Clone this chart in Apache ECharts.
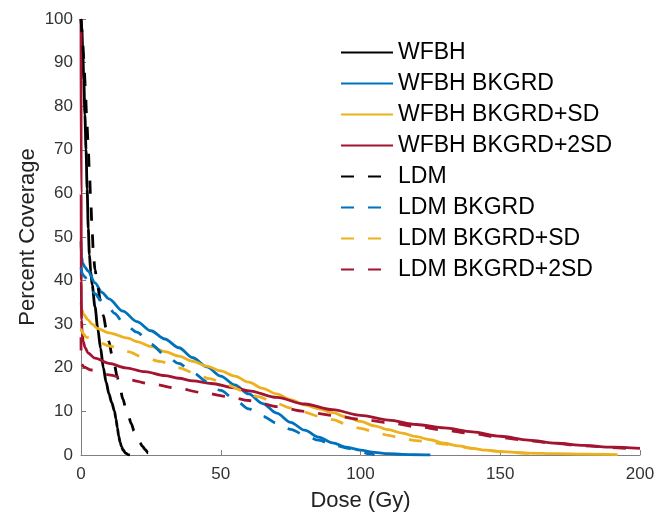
<!DOCTYPE html>
<html>
<head>
<meta charset="utf-8">
<script src="https://cdn.jsdelivr.net/npm/echarts@6/dist/echarts.min.js"></script>
<style>
  html, body { margin: 0; padding: 0; background: #fff; }
  #chart { width: 664px; height: 517px; }
</style>
</head>
<body>
<div id="chart"></div>
<script>
// dose (Gy) vs percent coverage
var seriesNames = ['WFBH', 'WFBH BKGRD', 'WFBH BKGRD+SD', 'WFBH BKGRD+2SD',
                   'LDM', 'LDM BKGRD', 'LDM BKGRD+SD', 'LDM BKGRD+2SD'];
var xTicks = [0, 50, 100, 150, 200];
var yTicks = [0, 10, 20, 30, 40, 50, 60, 70, 80, 90, 100];

var wfbh = [[0,100],[0.3,98],[0.6,93],[1,86],[1.4,78],[1.8,70],[2.2,61],[2.6,52],[3,46],[3.5,42],[4,39],[5,34],[6,29],[7,24.5],[8,20],[9,16.7],[10,14],[11,12],[12,10],[12.5,8.3],[13,6.3],[13.5,4.3],[14,2.9],[14.5,1.9],[15,1.2],[16,0.4],[17,0.05],[17.5,0]];
var wfbhBkgrd = [[0,49],[0.2,45.5],[0.6,44],[1.5,43],[2.5,42.2],[5,39.5],[7.5,37.3],[10,35.8],[15,33],[20,30.6],[25,28.5],[30,26.6],[35,24.6],[40,22.3],[45,20.2],[50,18.1],[55,16.1],[60,14],[65,11.8],[70,9.6],[75,7.5],[80,5.7],[85,4.1],[90,2.8],[95,1.8],[100,1.1],[105,0.6],[110,0.3],[115,0.15],[120,0.06],[125,0]];
var wfbhSd = [[0,35],[0.2,33.5],[1,32.2],[2.5,31],[4,30],[6,29],[10,28],[16.8,26.8],[20,26],[25,24.9],[30,23.7],[35,22.7],[40,21.5],[45,20.4],[50,19.3],[55,18.1],[60,16.7],[65,15.3],[70,14],[75,12.7],[80,11.5],[85,10.6],[90,9.7],[95,8.7],[100,7.7],[105,6.7],[110,5.8],[115,5],[120,4.2],[125,3.5],[130,2.7],[135,2.1],[140,1.5],[145,1.1],[150,0.8],[155,0.6],[160,0.45],[170,0.3],[180,0.2],[192,0.1]];
var wfbh2Sd = [[0,100],[0.05,60],[0.1,40],[0.2,31],[0.4,28],[0.8,26],[1.5,24.6],[2.5,23.4],[5,22.2],[10,21],[16,20],[22.8,19.1],[30,18.2],[35,17.6],[40,17],[46.6,16.4],[55,15.4],[60,14.7],[70,13.2],[80,11.7],[90,10.4],[100,9.1],[110,8],[120,7],[130,6.2],[140,5.3],[150,4.3],[160,3.4],[170,2.7],[180,2.2],[190,1.8],[200,1.5]];

var ldm = [[0,100],[0.5,96],[1,91],[1.5,85],[2,78],[2.5,72],[3,65],[3.5,58],[4,51],[4.5,45.5],[5,42.5],[6,38.5],[7,35],[8,32],[9,29],[10,26],[11,23.2],[12,20.5],[13,17.8],[14,15.2],[15,12.8],[16,10.8],[17,8.8],[18,7.2],[19,5.5],[20,4],[21,2.9],[22,2],[23,1.2],[24,0.5],[25,0.1],[25.3,0]];
var ldmBkgrd = [[0,43],[0.5,41.5],[1.3,40.9],[3,39],[5,37],[7.1,35.5],[10,33.8],[12,32.5],[15,30.5],[20,28.2],[25,25.4],[30,23],[35,21],[40,18.9],[45,16.9],[50,14.8],[55,12.7],[60,10.6],[65,8.9],[70,7.3],[75,5.9],[80,4.6],[85,3.4],[90,2.4],[95,1.6],[100,0.8],[103,0.3],[105,0]];
var ldmSd = [[0,29],[0.5,28],[2,27],[6,26],[10,25],[16.8,23.7],[22,22.5],[28.6,21.4],[35,20],[40.7,18.8],[46,17.5],[52.6,16],[58,14.7],[63.3,13.4],[70,11.8],[75,10.8],[80,9.8],[85,8.9],[90,8.1],[95,7.1],[100,6.1],[105,5.3],[110,4.5],[115,3.8],[120,3.3],[125,2.9],[130,2.5],[135,2],[140,1.5],[145,1.1],[150,0.8],[155,0.55],[160,0.35],[165,0.2]];
var ldm2Sd = [[0,27],[0.05,22],[0.3,20.8],[1,20.2],[3.6,19.5],[10,18.4],[16.8,17.3],[25,16.3],[34.7,15.3],[42.6,14.4],[52.6,13.4],[60,12.5],[64,11.9],[70,11.1],[80,10],[90,9.1],[100,8.2],[110,7.4],[120,6.5],[130,5.7],[140,4.9],[150,4],[160,3.3],[170,2.6],[180,2.1],[190,1.7],[196,1.5]];

var allData = [wfbh, wfbhBkgrd, wfbhSd, wfbh2Sd, ldm, ldmBkgrd, ldmSd, ldm2Sd];
var colors = ['#000000', '#0072BD', '#EDB120', '#A2142F'];

var font = 'Liberation Sans, Arial, sans-serif';

function makeSeries() {
  var out = [];
  for (var i = 0; i < allData.length; i++) {
    var dashed = i >= 4;
    out.push({
      name: seriesNames[i],
      type: 'line',
      data: allData[i],
      symbol: 'none',
      smooth: 0.3,
      smoothMonotone: 'x',
      lineStyle: {
        color: colors[i % 4],
        width: 2.8,
        type: dashed ? [13, 14] : 'solid'
      },
      itemStyle: { color: colors[i % 4] },
      z: i
    });
  }
  return out;
}

var chart = echarts.init(document.getElementById('chart'));
chart.setOption({
  animation: false,
  backgroundColor: '#fff',
  grid: { left: 81, right: 24, top: 19, bottom: 62 },
  legend: {
    orient: 'vertical',
    left: 340,
    top: 41,
    padding: 0,
    itemWidth: 52,
    itemHeight: 14,
    itemGap: 8,
    data: seriesNames,
    itemStyle: { opacity: 0 },
    textStyle: { fontSize: 23, fontFamily: font, color: '#000', lineHeight: 23 }
  },
  xAxis: {
    type: 'value',
    min: 0, max: 200, interval: 50,
    name: 'Dose (Gy)',
    nameLocation: 'middle',
    nameGap: 35,
    nameMoveOverlap: false,
    nameTextStyle: { fontSize: 22, fontFamily: font, color: '#222' },
    axisLine: { show: true, lineStyle: { color: '#808080', width: 1 } },
    axisTick: { show: true, inside: true, length: 5, lineStyle: { color: '#808080' } },
    axisLabel: {
      fontSize: 17, fontFamily: font, color: '#333', margin: 11,
      formatter: function (v) { return xTicks.indexOf(v) >= 0 ? String(v) : ''; }
    },
    splitLine: { show: false }
  },
  yAxis: {
    type: 'value',
    min: 0, max: 100, interval: 10,
    name: 'Percent Coverage',
    nameLocation: 'middle',
    nameGap: 42,
    nameMoveOverlap: false,
    nameTextStyle: { fontSize: 22, fontFamily: font, color: '#222' },
    axisLine: { show: true, lineStyle: { color: '#808080', width: 1 } },
    axisTick: { show: true, inside: true, length: 5, lineStyle: { color: '#808080' } },
    axisLabel: {
      fontSize: 17, fontFamily: font, color: '#333', margin: 8,
      formatter: function (v) { return yTicks.indexOf(v) >= 0 ? String(v) : ''; }
    },
    splitLine: { show: false }
  },
  series: makeSeries()
});
</script>
</body>
</html>
